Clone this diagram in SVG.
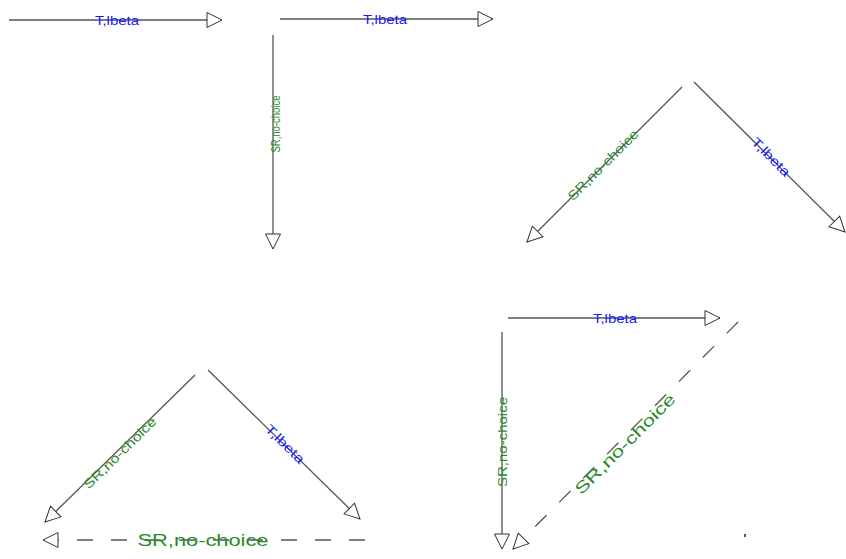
<svg xmlns="http://www.w3.org/2000/svg" width="846" height="559" viewBox="0 0 846 559">
<style>
.e{stroke:#555;stroke-width:1.3;fill:none;marker-end:url(#ah)}
.d{stroke-dasharray:16,18}
.t{font-family:"Liberation Sans",Arial,sans-serif;font-size:13px;text-anchor:middle;dominant-baseline:central}
.b{fill:#1a1aff}
.g{fill:#2a8a2a}
.big{font-size:16px}
</style>
<defs>
<marker id="ah" markerUnits="userSpaceOnUse" markerWidth="17" markerHeight="17" refX="15" refY="7.5" orient="auto" viewBox="-1 -1 17 17">
<path d="M0,0 L15,7.5 L0,15 Z" fill="#fff" stroke="#333" stroke-width="1"/>
</marker>
</defs>
<g id="connectors">
<g id="e1"><line class="e" x1="9" y1="20" x2="222" y2="20"/><text class="t b" x="117" y="20" textLength="44" lengthAdjust="spacingAndGlyphs">T,lbeta</text></g>
<g id="e2"><line class="e" x1="280" y1="19" x2="493" y2="19"/><text class="t b" x="385" y="19" textLength="44" lengthAdjust="spacingAndGlyphs">T,lbeta</text></g>
<g id="e3"><line class="e" x1="273" y1="35" x2="273" y2="249"/><text class="t g" transform="translate(275,124) rotate(-90)" textLength="57" lengthAdjust="spacingAndGlyphs">SR,no-choice</text></g>
<g id="e4"><line class="e" x1="682" y1="87" x2="527" y2="242"/><text class="t g" transform="translate(603,165) rotate(-45)" textLength="94" lengthAdjust="spacingAndGlyphs">SR,no-choice</text></g>
<g id="e5"><line class="e" x1="694" y1="82" x2="845" y2="232"/><text class="t b" transform="translate(771,157) rotate(45)" textLength="49" lengthAdjust="spacingAndGlyphs">T,lbeta</text></g>
<g id="e6"><line class="e" x1="195" y1="375" x2="45" y2="522"/><text class="t g" transform="translate(120,453) rotate(-44.4)" textLength="96" lengthAdjust="spacingAndGlyphs">SR,no-choice</text></g>
<g id="e7"><line class="e" x1="208" y1="370" x2="360" y2="519"/><text class="t b" transform="translate(285,444) rotate(44.4)" textLength="49" lengthAdjust="spacingAndGlyphs">T,lbeta</text></g>
<g id="e8"><line class="e d" x1="365" y1="540" x2="43" y2="540"/><text class="t g big" x="203" y="540" textLength="131" lengthAdjust="spacingAndGlyphs">SR,no-choice</text></g>
<g id="e9"><line class="e" x1="508" y1="318" x2="720" y2="318"/><text class="t b" x="615" y="318" textLength="44" lengthAdjust="spacingAndGlyphs">T,lbeta</text></g>
<g id="e10"><line class="e" x1="502" y1="332" x2="502" y2="549"/><text class="t g" transform="translate(502,442) rotate(-90)" textLength="90" lengthAdjust="spacingAndGlyphs">SR,no-choice</text></g>
<g id="e11"><line class="e d" x1="738" y1="322" x2="513" y2="549"/><text class="t g big" transform="translate(625,444) rotate(-45)" textLength="135" lengthAdjust="spacingAndGlyphs">SR,no-choice</text></g>
</g>
<rect x="744" y="534" width="2" height="3" fill="#555"/>
</svg>
